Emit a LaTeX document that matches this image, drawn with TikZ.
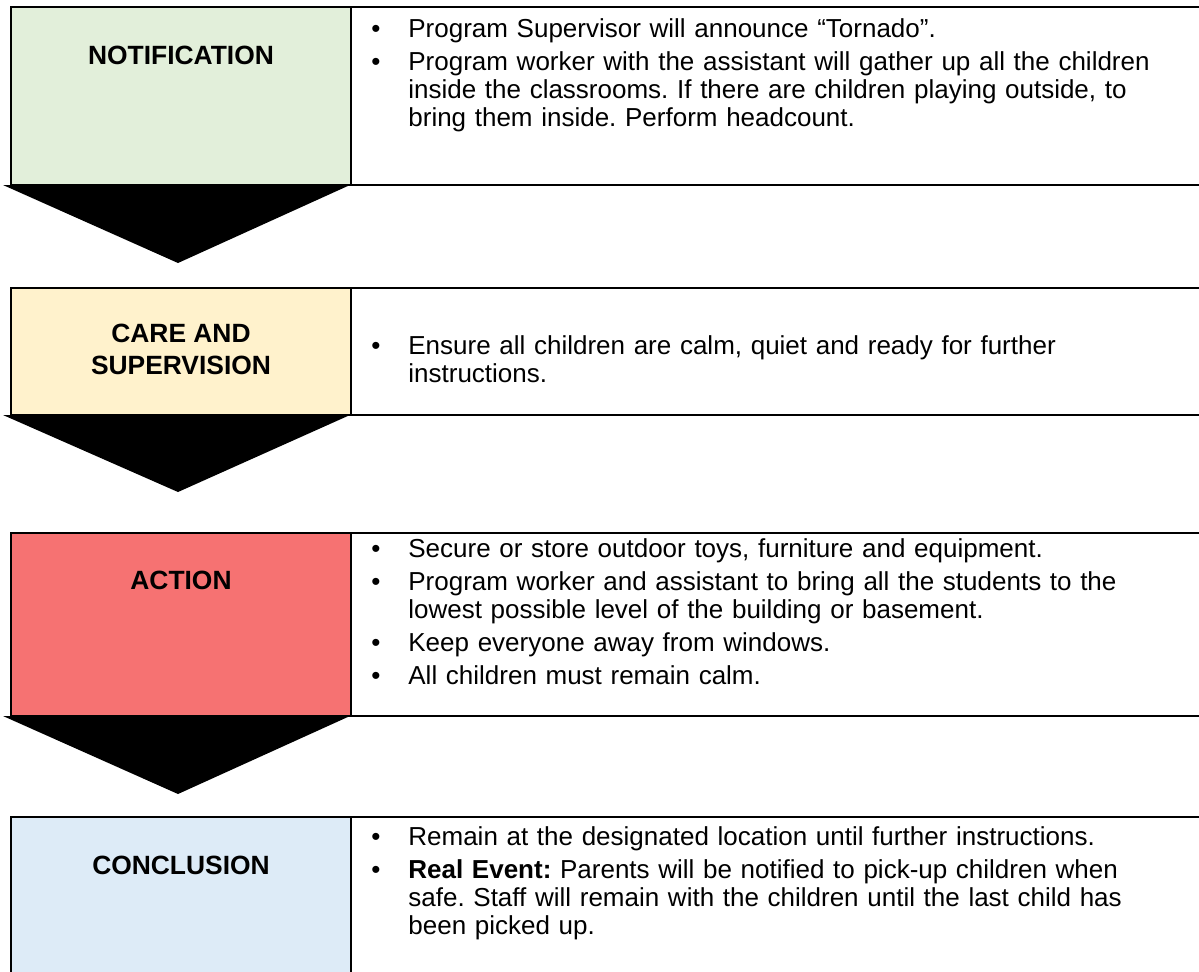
\documentclass[tikz,border=0pt]{standalone}
\usepackage{fontspec}
\setmainfont{Liberation Sans}
\usepackage{enumitem}
\setlist[itemize]{label=\textbullet, leftmargin=23pt, labelsep=14pt, topsep=0pt, partopsep=0pt, itemsep=2.5pt, parsep=0pt}
\frenchspacing

\definecolor{notegreen}{RGB}{226,239,218}
\definecolor{careyellow}{RGB}{255,242,204}
\definecolor{actionred}{RGB}{246,114,114}
\definecolor{endblue}{RGB}{221,235,247}

\begin{document}
\begin{tikzpicture}[x=0.5pt,y=-0.5pt,
  stagelabel/.style={font=\fontsize{13.2}{16}\selectfont\bfseries, align=center, inner sep=0pt},
  stagetext/.style={anchor=north west, text width=430pt, inner sep=0pt, align=left, font=\fontsize{13}{14}\selectfont},
  rule/.style={line width=1pt},
  pointer/.style={fill=black}]
\useasboundingbox (0,0) rectangle (1199,971);

% coloured stage boxes
\draw[rule,fill=notegreen] (11,7) rectangle (351,185);
\draw[rule,fill=careyellow] (11,288) rectangle (351,415);
\draw[rule,fill=actionred] (11,533) rectangle (351,716);
\draw[rule,fill=endblue] (11,817) rectangle (351,985);

% top and bottom rules of the text column
\draw[rule] (351,7) -- (1210,7);
\draw[rule] (351,185) -- (1210,185);
\draw[rule] (351,288) -- (1210,288);
\draw[rule] (351,415) -- (1210,415);
\draw[rule] (351,533) -- (1210,533);
\draw[rule] (351,716) -- (1210,716);
\draw[rule] (351,817) -- (1210,817);

% arrows down to the next stage
\fill[pointer] (3,185) -- (350,185) -- (178,263) -- cycle;
\fill[pointer] (3,415) -- (350,415) -- (178,492) -- cycle;
\fill[pointer] (3,716) -- (350,716) -- (178,794) -- cycle;

% stage names
\node[stagelabel] (notif) at (181,55) {NOTIFICATION};
\node[stagelabel] (care) at (181,349) {CARE AND\\SUPERVISION};
\node[stagelabel] (action) at (181,580) {ACTION};
\node[stagelabel] (concl) at (181,865) {CONCLUSION};

% what to do in each stage
\node[stagetext] (notiftext) at (362,9) {%
\begin{itemize}
\item Program Supervisor will announce “Tornado”.
\item Program worker with the assistant will gather up all the children\newline inside the classrooms. If there are children playing outside, to\newline bring them inside. Perform headcount.
\end{itemize}};

\node[stagetext] (caretext) at (362,326) {%
\begin{itemize}
\item Ensure all children are calm, quiet and ready for further\newline instructions.
\end{itemize}};

\node[stagetext] (actiontext) at (362,529) {%
\begin{itemize}
\item Secure or store outdoor toys, furniture and equipment.
\item Program worker and assistant to bring all the students to the\newline lowest possible level of the building or basement.
\item Keep everyone away from windows.
\item All children must remain calm.
\end{itemize}};

\node[stagetext] (concltext) at (362,817) {%
\begin{itemize}
\item Remain at the designated location until further instructions.
\item \textbf{Real Event:} Parents will be notified to pick-up children when\newline safe. Staff will remain with the children until the last child has\newline been picked up.
\end{itemize}};
\end{tikzpicture}
\end{document}
